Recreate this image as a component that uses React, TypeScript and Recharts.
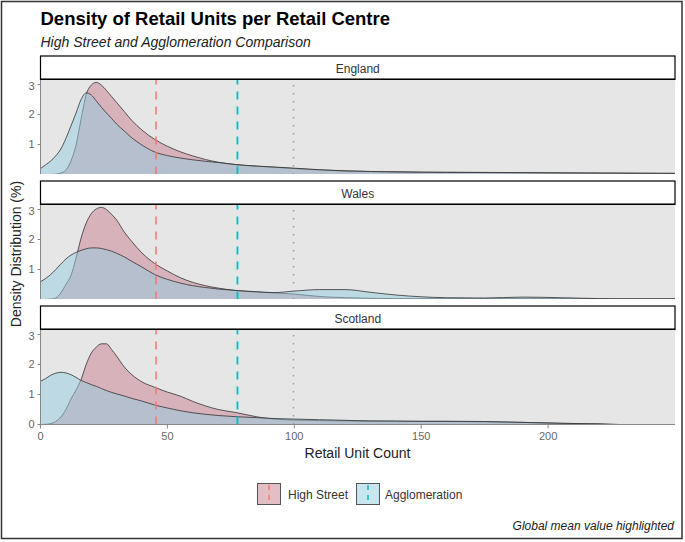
import { Area, AreaChart, CartesianGrid, ReferenceLine, XAxis, YAxis } from "recharts";

// retail unit count grid shared by every density curve
const units = [
	0, 2, 4, 6, 8, 10, 12, 14, 16, 18, 20, 22, 24, 26, 28, 30, 33, 36, 40, 45, 50, 55, 60, 65, 70, 77, 85, 92, 100,
	110, 120, 130, 140, 150, 160, 175, 190, 205, 220, 228, 235, 250,
];

const englandHighStreet = [
	0, 0, 0, 0.01, 0.05, 0.15, 0.45, 0.98, 1.85, 2.66, 2.98, 3.07, 2.98, 2.8, 2.6, 2.4, 2.1, 1.8, 1.48, 1.17, 0.94,
	0.76, 0.62, 0.5, 0.41, 0.33, 0.28, 0.24, 0.2, 0.15, 0.12, 0.1, 0.09, 0.08, 0.075, 0.07, 0.06, 0.055, 0.05, 0.048,
	0.045, 0.04,
];
const englandAgglomeration = [
	0.2, 0.32, 0.45, 0.62, 0.85, 1.2, 1.62, 2.05, 2.5, 2.72, 2.65, 2.45, 2.24, 2.05, 1.87, 1.68, 1.45, 1.22, 0.98, 0.75,
	0.63, 0.55, 0.49, 0.44, 0.4, 0.33, 0.28, 0.25, 0.21, 0.16, 0.12, 0.1, 0.085, 0.075, 0.07, 0.065, 0.06, 0.05, 0.045,
	0.042, 0.04, 0.035,
];
const walesHighStreet = [
	0, 0, 0.01, 0.05, 0.22, 0.5, 0.8, 1.38, 2.05, 2.55, 2.86, 3.02, 3.07, 3.0, 2.84, 2.65, 2.25, 1.93, 1.55, 1.2, 0.95,
	0.73, 0.57, 0.46, 0.38, 0.3, 0.25, 0.22, 0.18, 0.1, 0.06, 0.04, 0.03, 0.03, 0.03, 0.03, 0.03, 0.03, 0.02, 0.02,
	0.02, 0.02,
];
const walesAgglomeration = [
	0.59, 0.7, 0.83, 1.0, 1.18, 1.35, 1.48, 1.57, 1.64, 1.69, 1.72, 1.72, 1.7, 1.66, 1.61, 1.54, 1.42, 1.27, 1.08, 0.83,
	0.67, 0.55, 0.46, 0.4, 0.35, 0.3, 0.26, 0.23, 0.28, 0.33, 0.33, 0.24, 0.15, 0.09, 0.06, 0.05, 0.08, 0.06, 0.03,
	0.02, 0.02, 0.02,
];
const scotlandHighStreet = [
	0, 0.005, 0.03, 0.1, 0.25, 0.5, 0.85, 1.15, 1.5, 2.0, 2.38, 2.58, 2.69, 2.69, 2.5, 2.28, 1.92, 1.66, 1.42, 1.24,
	1.08, 0.95, 0.77, 0.62, 0.5, 0.4, 0.26, 0.18, 0.15, 0.13, 0.12, 0.11, 0.1, 0.1, 0.1, 0.09, 0.07, 0.04, 0.02, 0, 0,
	0,
];
const scotlandAgglomeration = [
	1.44, 1.53, 1.64, 1.71, 1.74, 1.72, 1.66, 1.57, 1.47, 1.4, 1.33, 1.27, 1.2, 1.13, 1.07, 1.02, 0.95, 0.87, 0.78,
	0.65, 0.55, 0.46, 0.39, 0.34, 0.3, 0.26, 0.23, 0.2, 0.18, 0.16, 0.14, 0.12, 0.12, 0.11, 0.11, 0.1, 0.07, 0.04,
	0.02, 0, 0, 0,
];

const regions = ["England", "Wales", "Scotland"];
const highStreetByRegion = [englandHighStreet, walesHighStreet, scotlandHighStreet];
const agglomerationByRegion = [englandAgglomeration, walesAgglomeration, scotlandAgglomeration];

const seriesNames = ["High Street", "Agglomeration"];
const meanHighStreet = 45.5;
const meanAgglomeration = 77.6;
const meanGlobal = 99.7;

const xTicks = [0, 50, 100, 150, 200];
const yTicks = [0, 1, 2, 3];

const FONT = "'Liberation Sans', Arial, sans-serif";
const HS_FILL = "#C97D8F";
const AG_FILL = "#93CBDF";
const HS_LINE = "#F8766D";
const AG_LINE = "#00BFC4";

const PLOT_LEFT = 40.5;
const PLOT_RIGHT = 675;
const PLOT_H = 94.5;
const STRIP_H = 23.5;
const PANEL_STEP = 125;
const FIRST_STRIP = 56;

function Panel({ index }: { index: number }) {
	const rows = units.map((x, i) => ({
		x,
		hs: highStreetByRegion[index][i],
		ag: agglomerationByRegion[index][i],
	}));
	const showX = index === regions.length - 1;
	const top = FIRST_STRIP + STRIP_H + index * PANEL_STEP;

	return (
		<div style={{ position: "absolute", left: 0, top }}>
			<AreaChart
				width={685}
				height={PLOT_H + (showX ? 22 : 0)}
				data={rows}
				margin={{ top: 0, right: 685 - PLOT_RIGHT, bottom: 0, left: 0 }}
			>
				<CartesianGrid fill="#e6e6e6" stroke="none" />
				<XAxis
					dataKey="x"
					type="number"
					domain={[0, 250]}
					ticks={xTicks}
					hide={!showX}
					height={22}
					tickSize={4}
					tickMargin={4}
					tick={{ fill: "#666", fontSize: 11, fontFamily: FONT }}
					axisLine={{ stroke: "#888" }}
					tickLine={{ stroke: "#888" }}
					allowDataOverflow
				/>
				<YAxis
					type="number"
					domain={[0, 3.15]}
					ticks={yTicks}
					width={PLOT_LEFT}
					tickSize={3}
					tickMargin={3}
					tick={{ fill: "#666", fontSize: 11, fontFamily: FONT }}
					axisLine={{ stroke: "#888" }}
					tickLine={{ stroke: "#888" }}
					allowDataOverflow
				/>
				<Area
					type="monotone"
					dataKey="hs"
					name={seriesNames[0]}
					stroke="#333"
					strokeWidth={0.8}
					fill={HS_FILL}
					fillOpacity={0.5}
					dot={false}
					activeDot={false}
					isAnimationActive={false}
				/>
				<Area
					type="monotone"
					dataKey="ag"
					name={seriesNames[1]}
					stroke="#333"
					strokeWidth={0.8}
					fill={AG_FILL}
					fillOpacity={0.5}
					dot={false}
					activeDot={false}
					isAnimationActive={false}
				/>
				<ReferenceLine x={meanHighStreet} stroke={HS_LINE} strokeWidth={1.5} strokeDasharray="8 7" />
				<ReferenceLine x={meanAgglomeration} stroke={AG_LINE} strokeWidth={1.8} strokeDasharray="8 7" />
				<ReferenceLine x={meanGlobal} stroke="#999" strokeWidth={1.5} strokeDasharray="1.5 6.5" />
			</AreaChart>
		</div>
	);
}

export default function App() {
	const legendFills = [HS_FILL, AG_FILL];
	const legendLines = [HS_LINE, AG_LINE];
	const legendKeyX = [257.5, 356.5];
	const legendTextX = [288, 385];

	return (
		<div
			style={{
				position: "absolute",
				left: 0,
				top: 0,
				width: 685,
				height: 542,
				background: "#fff",
				fontFamily: FONT,
			}}
		>
			<svg width={685} height={542} style={{ position: "absolute", left: 0, top: 0 }}>
				<rect x={1.5} y={1.5} width={680.5} height={537} fill="none" stroke="#333" strokeWidth={1.5} />
				<text x={40.5} y={25} fontSize={18.5} fontWeight="bold" fill="#000" fontFamily={FONT}>
					Density of Retail Units per Retail Centre
				</text>
				<text x={40.5} y={46.5} fontSize={14} fontStyle="italic" fill="#222" fontFamily={FONT}>
					High Street and Agglomeration Comparison
				</text>
				{regions.map((r, i) => {
					const y = FIRST_STRIP + i * PANEL_STEP;
					return (
						<g key={r}>
							<rect
								x={PLOT_LEFT}
								y={y}
								width={PLOT_RIGHT - PLOT_LEFT}
								height={STRIP_H}
								fill="#fff"
								stroke="#000"
								strokeWidth={1.2}
							/>
							<line x1={PLOT_LEFT} x2={PLOT_RIGHT} y1={y + STRIP_H} y2={y + STRIP_H} stroke="#000" strokeWidth={2} />
							<text
								x={(PLOT_LEFT + PLOT_RIGHT) / 2}
								y={y + 16.5}
								fontSize={12}
								fill="#333"
								textAnchor="middle"
								fontFamily={FONT}
							>
								{r}
							</text>
						</g>
					);
				})}
				<text x={357.5} y={458} fontSize={14} fill="#222" textAnchor="middle" fontFamily={FONT}>
					Retail Unit Count
				</text>
				<text
					x={21}
					y={254}
					fontSize={14}
					fill="#222"
					textAnchor="middle"
					fontFamily={FONT}
					transform="rotate(-90 21 254)"
				>
					Density Distribution (%)
				</text>
				{seriesNames.map((s, i) => (
					<g key={s}>
						<rect x={legendKeyX[i]} y={483.5} width={23} height={21} fill="#fff" stroke="none" />
						<rect
							x={legendKeyX[i]}
							y={483.5}
							width={23}
							height={21}
							fill={legendFills[i]}
							fillOpacity={0.5}
							stroke="#555"
							strokeWidth={1}
						/>
						<line
							x1={legendKeyX[i] + 11.5}
							x2={legendKeyX[i] + 11.5}
							y1={484}
							y2={504}
							stroke={legendLines[i]}
							strokeWidth={1.5}
							strokeDasharray="5 5"
							strokeDashoffset={-1}
						/>
						<text x={legendTextX[i]} y={499} fontSize={12} fill="#333" fontFamily={FONT}>
							{s}
						</text>
					</g>
				))}
				<text x={674} y={530} fontSize={12} fontStyle="italic" fill="#222" textAnchor="end" fontFamily={FONT}>
					Global mean value highlighted
				</text>
			</svg>
			{regions.map((r, i) => (
				<Panel key={r} index={i} />
			))}
		</div>
	);
}
